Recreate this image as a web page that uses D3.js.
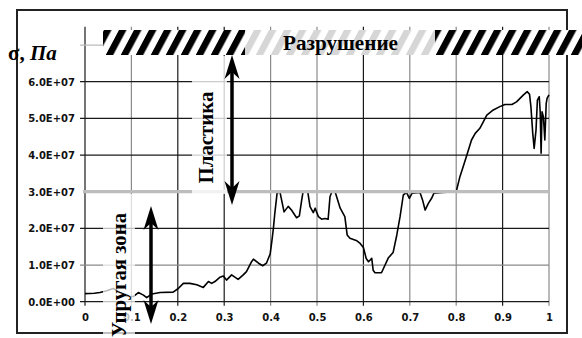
<!DOCTYPE html>
<html><head><meta charset="utf-8">
<script src="https://cdn.jsdelivr.net/npm/d3@7"></script>
<style>body{margin:0;background:#fff}svg{display:block}</style>
</head><body>
<svg id="c" width="582" height="338"></svg>
<script>
// ---- data ----
const strain = [0.000,0.020,0.032,0.045,0.061,0.075,0.090,0.104,0.115,0.126,0.133,0.144,0.162,0.190,0.201,0.212,0.226,0.241,0.255,0.266,0.273,0.280,0.291,0.298,0.305,0.316,0.323,0.330,0.341,0.348,0.359,0.363,0.374,0.383,0.391,0.399,0.403,0.406,0.409,0.414,0.420,0.429,0.438,0.445,0.456,0.462,0.467,0.470,0.480,0.485,0.492,0.496,0.503,0.510,0.517,0.524,0.528,0.532,0.539,0.550,0.560,0.565,0.571,0.586,0.593,0.600,0.606,0.611,0.618,0.621,0.625,0.639,0.654,0.664,0.672,0.679,0.686,0.693,0.699,0.705,0.722,0.728,0.733,0.740,0.747,0.752,0.770,0.800,0.808,0.815,0.823,0.833,0.841,0.851,0.866,0.880,0.894,0.905,0.920,0.930,0.945,0.953,0.958,0.961,0.965,0.968,0.972,0.975,0.979,0.981,0.983,0.985,0.988,0.991,0.994,0.996,1.000];
const stress = [2.2e6,2.3e6,2.5e6,2.9e6,3.6e6,2.5e6,1.5e6,1.4e6,2.5e6,1.8e6,1.1e6,2.1e6,2.5e6,2.6e6,3.6e6,5.0e6,5.0e6,4.6e6,3.9e6,5.5e6,5.0e6,5.5e6,6.7e6,7.0e6,5.9e6,7.3e6,6.7e6,6.1e6,7.3e6,8.2e6,10.9e6,11.6e6,10.5e6,9.8e6,10.5e6,13.0e6,16.8e6,20.0e6,24.0e6,29.6e6,30.0e6,24.5e6,26.0e6,25.0e6,22.9e6,23.4e6,27.7e6,30.0e6,30.0e6,25.9e6,24.3e6,25.5e6,23.2e6,22.5e6,22.7e6,22.5e6,28.6e6,30.0e6,30.0e6,25.5e6,23.2e6,18.2e6,17.3e6,16.6e6,15.9e6,14.8e6,11.8e6,10.9e6,11.8e6,8.6e6,7.9e6,7.9e6,12.0e6,13.4e6,18.2e6,23.2e6,29.1e6,29.8e6,28.2e6,29.6e6,29.8e6,27.5e6,25.0e6,26.8e6,28.2e6,29.6e6,29.8e6,30.0e6,34.1e6,36.8e6,40.0e6,44.1e6,45.9e6,47.3e6,50.9e6,52.3e6,53.2e6,53.8e6,53.8e6,54.5e6,56.4e6,57.3e6,56.6e6,53.2e6,45.9e6,41.8e6,46.8e6,55.0e6,55.9e6,51.8e6,40.5e6,51.8e6,50.4e6,44.1e6,54.1e6,55.5e6,56.4e6];
const xTicks = [0,0.1,0.2,0.3,0.4,0.5,0.6,0.7,0.8,0.9,1];
const xTickLabels = ["0","0.1","0.2","0.3","0.4","0.5","0.6","0.7","0.8","0.9","1"];
const yTicks = [0,1e7,2e7,3e7,4e7,5e7,6e7];
const yTickLabels = ["0.0E+00","1.0E+07","2.0E+07","3.0E+07","4.0E+07","5.0E+07","6.0E+07"];
const yGridTop = 7e7;
const yieldStress = 3e7;
const yLabel = "σ, ";
const yLabelUnit = "Па";
const zoneFracture = "Разрушение";
const zonePlastic = "Пластика";
const zoneElastic = "Упругая зона";

// ---- drawing ----
const svg = d3.select("#c");
const x = d3.scaleLinear().domain([0,1]).range([85,549]);
const y = d3.scaleLinear().domain([0,7.5e7]).range([301.7,26.7]);
const serif = "'Liberation Serif','Times New Roman',serif";
const sans = "'DejaVu Sans',Verdana,sans-serif";

const defs = svg.append("defs");
const pat = defs.append("pattern").attr("id","stripes").attr("patternUnits","userSpaceOnUse")
  .attr("width",15).attr("height",30).attr("patternTransform","translate(103,30) skewX(-28)");
pat.append("rect").attr("width",15).attr("height",30).attr("fill","#fff");
pat.append("rect").attr("x",1).attr("width",7.5).attr("height",30).attr("fill","#000");
defs.append("filter").attr("id","soft").append("feGaussianBlur").attr("stdDeviation",0.7);

// frame
svg.append("rect").attr("x",17).attr("y",10).attr("width",550).attr("height",323)
  .attr("fill","none").attr("stroke","#222").attr("stroke-width",2);

// gridlines
const grayX = new Set([0.1,0.4,0.5,0.7,0.8,1]);
svg.append("g").selectAll("line").data(xTicks).join("line")
  .attr("x1",d=>x(d)).attr("x2",d=>x(d)).attr("y1",y(7.5e7)).attr("y2",y(0)+4)
  .attr("stroke",d=>grayX.has(d)?"#8a8a8a":"#1a1a1a").attr("stroke-width",1.2);
const grayY = new Set([1e7,7e7]);
svg.append("g").selectAll("line").data(yTicks.concat([yGridTop]).filter(d=>d!==yieldStress)).join("line")
  .attr("x1",x(0)-5).attr("x2",x(1)).attr("y1",d=>y(d)).attr("y2",d=>y(d))
  .attr("stroke",d=>d===7e7?"#bbb":(grayY.has(d)?"#8a8a8a":"#1a1a1a")).attr("stroke-width",1.2);

// curve
svg.append("path").datum(strain.map((s,i)=>[s,stress[i]]))
  .attr("fill","none").attr("stroke","#000").attr("stroke-width",1.6).attr("stroke-linejoin","round")
  .attr("d",d3.line().x(d=>x(d[0])).y(d=>y(d[1])));

// yield line
svg.append("line").attr("x1",x(0)-2).attr("x2",x(1)).attr("y1",y(yieldStress)).attr("y2",y(yieldStress))
  .attr("stroke","#bdbdbd").attr("stroke-width",3.2);

// axes labels
const yAxis = d3.axisLeft(y).tickValues(yTicks).tickFormat((d,i)=>yTickLabels[i]).tickSize(0).tickPadding(0);
svg.append("g").attr("transform","translate(75,0)").call(yAxis)
  .call(g=>g.select(".domain").remove())
  .selectAll("text").attr("font-family",sans).attr("font-weight","bold").attr("font-size",10).attr("fill","#111").attr("dy","0.35em");
const xAxis = d3.axisBottom(x).tickValues(xTicks).tickFormat((d,i)=>xTickLabels[i]).tickSize(0).tickPadding(0);
svg.append("g").attr("transform","translate(0,312)").call(xAxis)
  .call(g=>g.select(".domain").remove())
  .selectAll("text").attr("font-family",sans).attr("font-weight","bold").attr("font-size",10).attr("fill","#111").attr("dy","0.35em").attr("y",5);

// fracture band
svg.append("rect").attr("x",103).attr("y",30).attr("width",479).attr("height",25)
  .attr("fill","url(#stripes)").attr("filter","url(#soft)");

// translucent text boxes
svg.append("rect").attr("x",245).attr("y",30).attr("width",190).attr("height",25).attr("fill","#fff").attr("opacity",0.84);
svg.append("rect").attr("x",192).attr("y",56).attr("width",35).attr("height",138).attr("fill","#fff").attr("opacity",0.78);
svg.append("rect").attr("x",103).attr("y",194).attr("width",32).attr("height",144).attr("fill","#fff").attr("opacity",0.72);

// texts
svg.append("text").attr("x",283).attr("y",50).attr("font-family",serif).attr("font-weight","bold")
  .attr("font-size",20).attr("textLength",115).attr("lengthAdjust","spacingAndGlyphs").text(zoneFracture);
svg.append("text").attr("transform","translate(213,183.5) rotate(-90)").attr("font-family",serif).attr("font-weight","bold")
  .attr("font-size",21).attr("textLength",92).attr("lengthAdjust","spacingAndGlyphs").text(zonePlastic);
svg.append("text").attr("transform","translate(126,337) rotate(-90)").attr("font-family",serif).attr("font-weight","bold")
  .attr("font-size",21).attr("textLength",124).attr("lengthAdjust","spacingAndGlyphs").text(zoneElastic);
const yl = svg.append("text").attr("x",8).attr("y",60).attr("font-family",serif).attr("font-weight","bold").attr("font-size",21);
yl.append("tspan").text(yLabel);
yl.append("tspan").attr("font-style","italic").text(yLabelUnit);

// arrows
function dblArrow(cx, y1, y2){
  const L=24, W=7.5, N=17;
  svg.append("line").attr("x1",cx).attr("x2",cx).attr("y1",y1+N).attr("y2",y2-N).attr("stroke","#000").attr("stroke-width",3.5);
  svg.append("path").attr("fill","#000")
    .attr("d",`M${cx},${y1} L${cx+W},${y1+L} L${cx},${y1+N} L${cx-W},${y1+L} Z`);
  svg.append("path").attr("fill","#000")
    .attr("d",`M${cx},${y2} L${cx+W},${y2-L} L${cx},${y2-N} L${cx-W},${y2-L} Z`);
}
dblArrow(232, 55, 205);
dblArrow(151, 206, 324);
</script>
</body></html>
